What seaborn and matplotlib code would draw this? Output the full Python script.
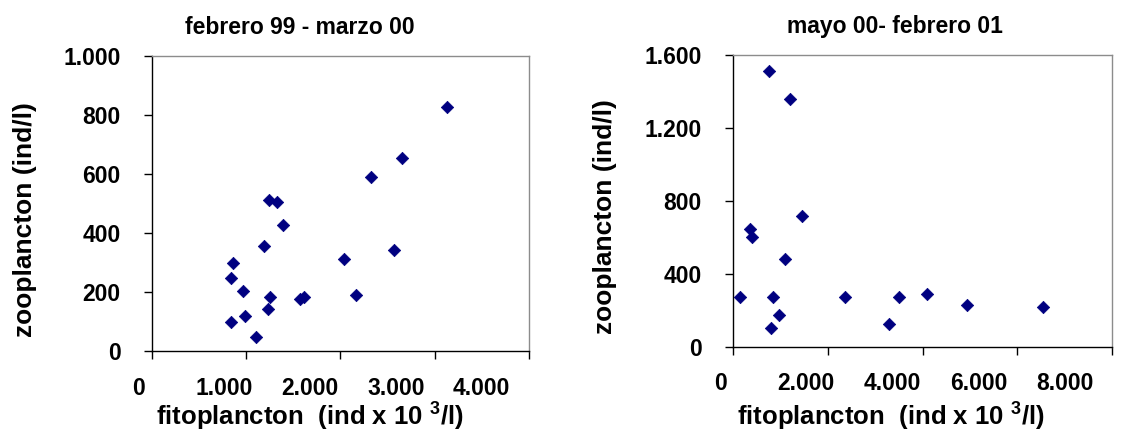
import matplotlib
matplotlib.use("Agg")
import matplotlib.pyplot as plt
import matplotlib.transforms as mtransforms
import seaborn as sns
import pandas as pd
from matplotlib.ticker import FuncFormatter

# febrero 99 - marzo 00
fito_1 = [3134, 2651, 2322, 1244, 1332, 1392, 1188, 866, 845, 972,
          1251, 1230, 990, 845, 1106, 1573, 1615, 2040, 2163, 2566]
zoo_1 = [827, 652, 588, 511, 503, 426, 356, 297, 245, 201,
         181, 141, 117, 96, 45, 174, 181, 311, 188, 342]

# mayo 00 - febrero 01
fito_2 = [759, 1202, 1448, 358, 401, 1090, 155, 837, 964, 795,
          2368, 3290, 3494, 4091, 4941, 6544]
zoo_2 = [1512, 1357, 719, 647, 603, 479, 271, 271, 176, 104,
         271, 125, 271, 289, 227, 218]

titles = ["febrero 99 - marzo 00", "mayo 00- febrero 01"]
x_ticks = [[0, 1000, 2000, 3000, 4000], [0, 2000, 4000, 6000, 8000]]
y_ticks = [[0, 200, 400, 600, 800, 1000], [0, 400, 800, 1200, 1600]]
x_label = "fitoplancton  (ind x 10 $^{3}$/l)"
y_label = "zooplancton (ind/l)"

sns.set_theme(style="white")
plt.rcParams["font.family"] = ["Liberation Sans", "DejaVu Sans"]
plt.rcParams["font.weight"] = "bold"
plt.rcParams["text.color"] = "black"
plt.rcParams["axes.labelcolor"] = "black"
plt.rcParams["xtick.color"] = "black"
plt.rcParams["ytick.color"] = "black"
plt.rcParams["mathtext.fontset"] = "custom"
plt.rcParams["mathtext.rm"] = "Liberation Sans:bold"
plt.rcParams["mathtext.default"] = "rm"

NAVY = "#000080"
TICK_FS = 16.5


def thousands(v, pos=None):
    return f"{v:,.0f}".replace(",", ".")


fig = plt.figure(figsize=(11.46, 4.34), dpi=100)
axes = [fig.add_axes([0.1324, 0.1919, 0.3292, 0.6797]),
        fig.add_axes([0.6396, 0.2012, 0.3310, 0.6720])]

datasets = [(fito_1, zoo_1), (fito_2, zoo_2)]
title_x = [0.393, 0.427]
xlabel_x = [0.42, 0.415]

for i, ax in enumerate(axes):
    fx, zy = datasets[i]
    df = pd.DataFrame({"fito": fx, "zoo": zy})
    sns.scatterplot(data=df, x="fito", y="zoo", ax=ax, marker="D",
                    s=40, color=NAVY, edgecolor=NAVY, linewidth=0.5,
                    zorder=3, clip_on=False)
    xt, yt = x_ticks[i], y_ticks[i]
    ax.set_xlim(xt[0], xt[-1])
    ax.set_ylim(yt[0], yt[-1])
    ax.set_yticks(yt)
    ax.yaxis.set_major_formatter(FuncFormatter(thousands))
    ax.set_xticks(xt)
    ax.set_xticklabels([])
    # x tick labels sit on an evenly compressed scale under the ticks
    for v in xt:
        frac = (v - xt[0]) / (xt[-1] - xt[0])
        ax.text(-0.034 + 0.908 * frac, -0.127, thousands(v),
                transform=ax.transAxes, ha="center", va="center",
                fontsize=TICK_FS, fontweight="bold", clip_on=False)
    ax.tick_params(axis="both", which="major", direction="out",
                   length=5.5, width=1.0, color="black",
                   bottom=True, left=True, labelsize=TICK_FS,
                   labelcolor="black")
    ax.tick_params(axis="y", pad=17)
    for lab in ax.get_yticklabels():
        lab.set_fontweight("bold")
    for side in ("left", "bottom"):
        ax.spines[side].set_color("black")
        ax.spines[side].set_linewidth(1.0)
    for side in ("top", "right"):
        ax.spines[side].set_color("#8c8c8c")
        ax.spines[side].set_linewidth(1.0)
        ax.spines[side].set_visible(True)
    ax.set_xlabel("")
    ax.set_ylabel("")
    blend = mtransforms.blended_transform_factory(ax.transAxes, fig.transFigure)
    ax.text(xlabel_x[i], 0.019, x_label, transform=blend,
            ha="center", va="baseline", fontsize=18.5, fontweight="bold")
    ax.text(-0.337, 0.446, y_label, transform=ax.transAxes,
            ha="center", va="center", rotation=90, fontsize=19,
            fontweight="bold")
    ax.set_title(titles[i], x=title_x[i], y=1.097, va="center", pad=0,
                 fontsize=16.5, fontweight="bold")

fig.savefig("out.png", dpi=100, facecolor="white")
